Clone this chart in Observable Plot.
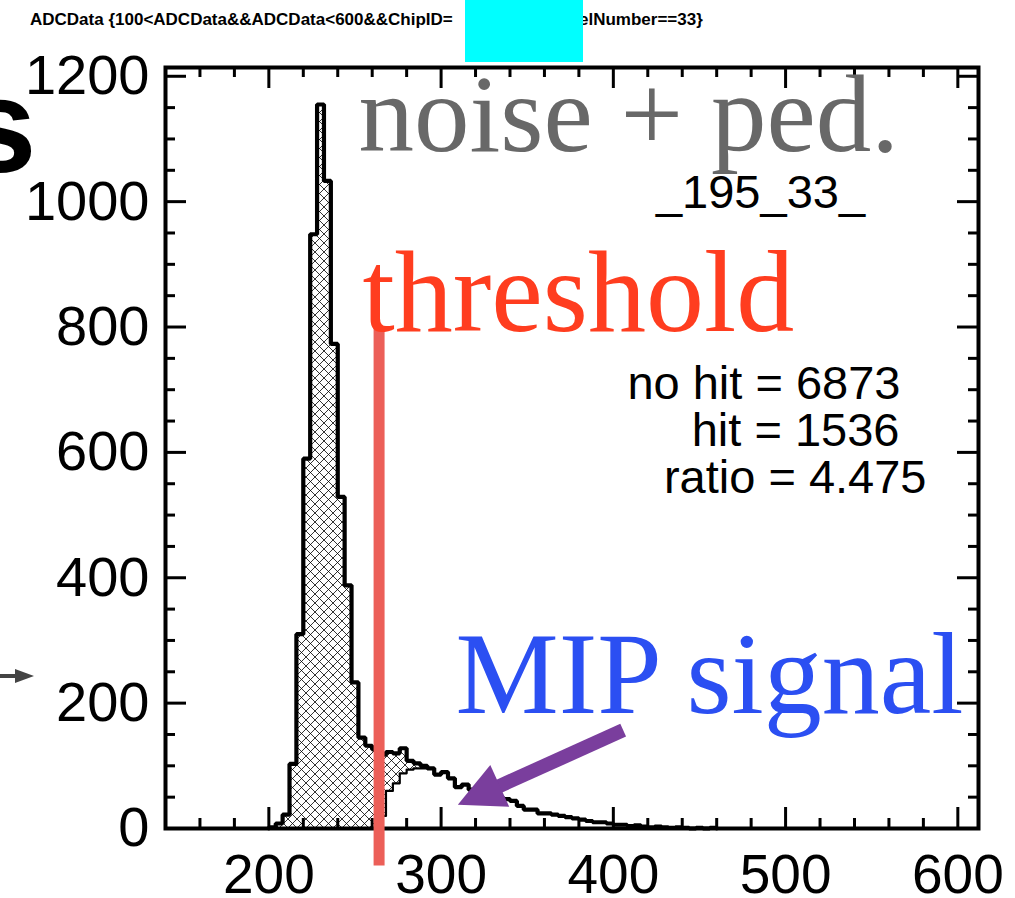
<!DOCTYPE html>
<html>
<head>
<meta charset="utf-8">
<script src="https://cdn.jsdelivr.net/npm/d3@7"></script>
<script src="https://cdn.jsdelivr.net/npm/@observablehq/plot@0.6"></script>
<style>
  html, body { margin: 0; padding: 0; background: #fff; }
  #wrap { position: relative; width: 1015px; height: 898px; overflow: hidden; background: #fff; }
  #wrap > svg { position: absolute; left: 0; top: 0; }
  #deco { pointer-events: none; }
</style>
</head>
<body>
<div id="wrap"></div>
<script>
// ADC spectrum of one channel, 4-count bins (lower bin edges)
const binLow = [200,204,208,212,216,220,224,228,232,236,240,244,248,252,256,260,264,268,272,276,
  280,284,288,292,296,300,304,308,312,316,320,324,328,332,336,340,344,348,352,356,
  360,364,368,372,376,380,384,388,392,396,400,404,408,412,416,420,424,428,432,436,
  440,444,448,452,456];
// all events: pedestal + noise + MIP tail
const allCounts = [2,8,22,103,310,590,948,1155,1033,773,529,388,233,145,132,126,118,122,120,128,
  108,104,100,96,86,90,80,66,70,62,58,56,52,50,47,44,36,30,30,24,
  24,22,20,18,16,14,12,10,10,8,6,6,4,5,3,2,3,2,1,2,
  1,0,1,0,1];
// events counted as hits (above threshold)
const hitLow = [264,268,272,276,280,284,288,292,296,300,304,308,312,316,320,324,328,332,336,340,
  344,348,352,356,360,364,368,372,376,380,384,388,392,396,400,404,408,412,416,420,
  424,428,432,436,440,444,448,452,456];
const hitCounts = [20,60,72,88,94,96,96,96,86,90,80,66,70,62,58,56,52,50,47,44,
  36,30,30,24,24,22,20,18,16,14,12,10,10,8,6,6,4,5,3,2,
  3,2,1,2,1,0,1,0,1];
const binWidth = 4;
const threshold = 264;

// axis ticks
const xMajor = [200, 300, 400, 500, 600];
const xMinor = [160, 180, 220, 240, 260, 280, 320, 340, 360, 380, 420, 440, 460, 480, 520, 540, 560, 580];
const yMajor = [0, 200, 400, 600, 800, 1000, 1200];
const yMinor = [50, 100, 150, 250, 300, 350, 450, 500, 550, 650, 700, 750, 850, 900, 950, 1050, 1100, 1150];

// text blocks
const channelTag = "_195_33_";
const statLines = ["no hit = 6873", "hit = 1536", "ratio = 4.475"];
const titleLeft = "ADCData {100<ADCData&&ADCData<600&&ChipID=";
const titleRight = "elNumber==33}";

// outline points for a step histogram (closed to zero at both ends)
function steps(lows, counts) {
  const pts = [{x: lows[0], y: 0}];
  lows.forEach((x, i) => pts.push({x, y: counts[i]}));
  pts.push({x: lows[lows.length - 1] + binWidth, y: 0});
  return pts;
}
const allSteps = steps(binLow, allCounts);
const hitSteps = steps(hitLow, hitCounts);

const W = 1015, H = 898;
const mL = 165, mR = 37, mT = 67, mB = 70;
const innerW = W - mL - mR, innerH = H - mT - mB;
const MAJ = 21, MIN = 10;
const sans = "'Liberation Sans', Arial, Helvetica, sans-serif";
const serif = "'Liberation Serif', 'Times New Roman', serif";

const plot = Plot.plot({
  width: W, height: H,
  marginLeft: mL, marginRight: mR, marginTop: mT, marginBottom: mB,
  x: {domain: [140, 612]},
  y: {domain: [0, 1214]},
  style: {fontFamily: sans, background: "white", color: "black", overflow: "visible"},
  marks: [
    // histogram fills
    Plot.areaY(allSteps, {x: "x", y: "y", curve: "step-after", fill: "url(#xhatch)"}),
    Plot.areaY(hitSteps, {x: "x", y: "y", curve: "step-after", fill: "white"}),
    Plot.lineY(hitSteps, {x: "x", y: "y", curve: "step-after", stroke: "black", strokeWidth: 2.2}),
    Plot.lineY(allSteps, {x: "x", y: "y", curve: "step-after", stroke: "black", strokeWidth: 4.2, strokeLinejoin: "miter"}),

    // inward ticks on all four sides
    Plot.ruleX(xMajor, {insetTop: innerH - MAJ, stroke: "black", strokeWidth: 3}),
    Plot.ruleX(xMinor, {insetTop: innerH - MIN, stroke: "black", strokeWidth: 3}),
    Plot.ruleX(xMajor, {insetBottom: innerH - MAJ, stroke: "black", strokeWidth: 3}),
    Plot.ruleX(xMinor, {insetBottom: innerH - MIN, stroke: "black", strokeWidth: 3}),
    Plot.ruleY(yMajor, {insetRight: innerW - MAJ, stroke: "black", strokeWidth: 3}),
    Plot.ruleY(yMinor, {insetRight: innerW - MIN, stroke: "black", strokeWidth: 3}),
    Plot.ruleY(yMajor, {insetLeft: innerW - MAJ, stroke: "black", strokeWidth: 3}),
    Plot.ruleY(yMinor, {insetLeft: innerW - MIN, stroke: "black", strokeWidth: 3}),

    Plot.axisX(xMajor, {anchor: "bottom", tickSize: 0, tickPadding: 25, fontSize: 55, tickFormat: d => String(d), label: null}),
    Plot.axisY(yMajor, {anchor: "left", tickSize: 0, tickPadding: 16, fontSize: 56, tickFormat: d => String(d), label: null}),
    Plot.frame({stroke: "black", strokeWidth: 4}),

    // threshold marker
    Plot.ruleX([threshold], {y1: -60, y2: 798, stroke: "#ec5f58", strokeWidth: 11, ariaLabel: "threshold"}),

    // annotations
    Plot.text(["noise + ped."], {frameAnchor: "top-left", dx: 193, dy: 83, textAnchor: "start", lineAnchor: "bottom",
      fontFamily: serif, fontSize: 111, fill: "#686868"}),
    Plot.text(["threshold"], {frameAnchor: "top-left", dx: 197, dy: 263, textAnchor: "start", lineAnchor: "bottom",
      fontFamily: serif, fontSize: 116, fill: "#ff3d1f"}),
    Plot.text(["MIP signal"], {frameAnchor: "top-left", dx: 290, dy: 645, textAnchor: "start", lineAnchor: "bottom",
      fontFamily: serif, fontSize: 116, fill: "#2b4ff2"}),
    Plot.text([channelTag], {frameAnchor: "top-left", dx: 595, dy: 140, textAnchor: "middle", lineAnchor: "bottom",
      fontSize: 47, fill: "black"}),
    Plot.text([statLines[0]], {frameAnchor: "top-left", dx: 735, dy: 331, textAnchor: "end", lineAnchor: "bottom", fontSize: 47, fill: "black"}),
    Plot.text([statLines[1]], {frameAnchor: "top-left", dx: 734, dy: 378, textAnchor: "end", lineAnchor: "bottom", fontSize: 47, fill: "black"}),
    Plot.text([statLines[2]], {frameAnchor: "top-left", dx: 761, dy: 425, textAnchor: "end", lineAnchor: "bottom", fontSize: 47, fill: "black"})
  ]
});

const svg = d3.select(plot);

// cross-hatch fill and a chalky edge for the threshold stroke
const defs = svg.insert("defs", ":first-child");
defs.append("pattern")
  .attr("id", "xhatch").attr("patternUnits", "userSpaceOnUse")
  .attr("width", 9).attr("height", 9)
  .append("path")
  .attr("d", "M-1,-1L10,10M10,-1L-1,10")
  .attr("stroke", "#000").attr("stroke-width", 0.8).attr("fill", "none");
const chalk = defs.append("filter").attr("id", "chalk")
  .attr("filterUnits", "userSpaceOnUse")
  .attr("x", 300).attr("y", 250).attr("width", 150).attr("height", 700);
chalk.append("feTurbulence").attr("type", "fractalNoise").attr("baseFrequency", 0.6).attr("numOctaves", 2).attr("result", "n");
chalk.append("feDisplacementMap").attr("in", "SourceGraphic").attr("in2", "n").attr("scale", 6)
  .attr("xChannelSelector", "R").attr("yChannelSelector", "G");
svg.select('g[aria-label="threshold"]').attr("filter", "url(#chalk)");

// arrow pointing at the MIP peak
const sx = plot.scale("x"), sy = plot.scale("y");
const arrowFrom = [406, 156], arrowTo = [310, 37];
const p0 = [sx.apply(arrowFrom[0]), sy.apply(arrowFrom[1])];
const p1 = [sx.apply(arrowTo[0]), sy.apply(arrowTo[1])];
const len = Math.hypot(p1[0] - p0[0], p1[1] - p0[1]);
const ux = (p1[0] - p0[0]) / len, uy = (p1[1] - p0[1]) / len;
const headL = 46, headW = 23;
const base = [p1[0] - headL * ux, p1[1] - headL * uy];
const arrow = svg.append("g").attr("aria-label", "mip-arrow");
arrow.append("line")
  .attr("x1", p0[0]).attr("y1", p0[1]).attr("x2", base[0] + 4 * ux).attr("y2", base[1] + 4 * uy)
  .attr("stroke", "#7a3e9d").attr("stroke-width", 14);
arrow.append("path")
  .attr("d", `M${p1[0]},${p1[1]}L${base[0] - headW * uy},${base[1] + headW * ux}L${base[0] + headW * uy},${base[1] - headW * ux}Z`)
  .attr("fill", "#7a3e9d");

document.getElementById("wrap").appendChild(plot);

// page furniture around the chart: title line, cover box, edge of neighbouring slide content
const deco = d3.select("#wrap").append("svg").attr("id", "deco")
  .attr("width", W).attr("height", H)
  .style("font-family", sans);
deco.append("text").attr("x", 30).attr("y", 25)
  .attr("font-size", 17).attr("font-weight", "bold").text(titleLeft);
deco.append("text").attr("x", 579).attr("y", 25)
  .attr("font-size", 17).attr("font-weight", "bold").text(titleRight);
deco.append("rect").attr("x", 465).attr("y", 0).attr("width", 118).attr("height", 62).attr("fill", "#00ffff");
deco.append("text").attr("x", -38).attr("y", 172)
  .attr("font-size", 134).attr("font-weight", "bold").text("s");
deco.append("line").attr("x1", 0).attr("y1", 676).attr("x2", 18).attr("y2", 676)
  .attr("stroke", "#444").attr("stroke-width", 4);
deco.append("path").attr("d", "M15,669L34,676L15,683Z").attr("fill", "#444");
</script>
</body>
</html>
